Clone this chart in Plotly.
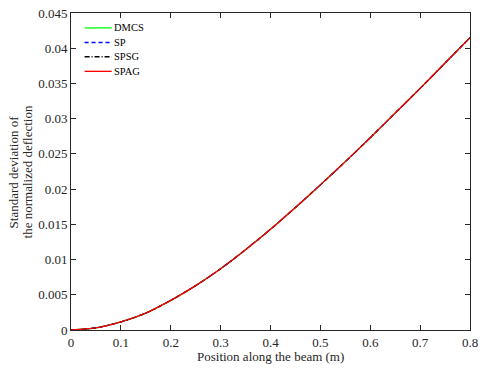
import plotly.graph_objects as go

positions = [0, 0.05, 0.1, 0.15, 0.2, 0.25, 0.3, 0.35, 0.4, 0.45, 0.5, 0.55, 0.6, 0.65, 0.7, 0.75, 0.8]
dmcs = [0, 0.0003, 0.00115, 0.0024, 0.0042, 0.0063, 0.0087, 0.0114, 0.0143, 0.0174, 0.0206, 0.0239, 0.0273, 0.0308, 0.0343, 0.0379, 0.0415]
sp = [0, 0.0003, 0.00115, 0.0024, 0.0042, 0.0063, 0.0087, 0.0114, 0.0143, 0.0174, 0.0206, 0.0239, 0.0273, 0.0308, 0.0343, 0.0379, 0.0415]
spsg = [0, 0.0003, 0.00115, 0.0024, 0.0042, 0.0063, 0.0087, 0.0114, 0.0143, 0.0174, 0.0206, 0.0239, 0.0273, 0.0308, 0.0343, 0.0379, 0.0415]
spag = [0, 0.0003, 0.00115, 0.0024, 0.0042, 0.0063, 0.0087, 0.0114, 0.0143, 0.0174, 0.0206, 0.0239, 0.0273, 0.0308, 0.0343, 0.0379, 0.0415]

series_names = ["DMCS", "SP", "SPSG", "SPAG"]
series_colors = ["#00ff00", "#0000ff", "#000000", "#ff0000"]
series_dashes = ["solid", "4px,3px", "5px,2px,1px,2px", "solid"]

x_ticks = [0, 0.1, 0.2, 0.3, 0.4, 0.5, 0.6, 0.7, 0.8]
x_labels = ["0", "0.1", "0.2", "0.3", "0.4", "0.5", "0.6", "0.7", "0.8"]
y_ticks = [0, 0.005, 0.01, 0.015, 0.02, 0.025, 0.03, 0.035, 0.04, 0.045]
y_labels = ["0", "0.005", "0.01", "0.015", "0.02", "0.025", "0.03", "0.035", "0.04", "0.045"]

x_title = "Position along the beam (m)"
y_title_lines = ["Standard deviation of", "the normalized deflection"]

FONT = "Liberation Serif, Times New Roman, Times, serif"
TXT = "#262626"

fig = go.Figure()
for name, vals, col, dash in zip(series_names, [dmcs, sp, spsg, spag], series_colors, series_dashes):
    fig.add_trace(go.Scatter(x=positions, y=vals, name=name, mode="lines", showlegend=False,
                             line=dict(color=col, width=1.3, dash=dash, shape="spline", smoothing=0.8)))

# legend drawn in paper coordinates (MATLAB-style compact legend)
leg_rows = [0.953, 0.907, 0.862, 0.816]
for name, col, dash, ry in zip(series_names, series_colors, series_dashes, leg_rows):
    fig.add_shape(type="line", xref="paper", yref="paper", x0=0.034, x1=0.102, y0=ry, y1=ry,
                  line=dict(color=col, width=1.3, dash=dash))
    fig.add_annotation(xref="paper", yref="paper", x=0.103, y=ry, text=name, showarrow=False,
                       xanchor="left", yanchor="middle",
                       font=dict(family=FONT, size=10.5, color="#000000"))

# axis titles
fig.add_annotation(xref="paper", yref="paper", x=0.5, y=-0.084, text=x_title, showarrow=False,
                   xanchor="center", yanchor="middle", font=dict(family=FONT, size=13, color=TXT))
for line_text, px in zip(y_title_lines, [-0.143, -0.108]):
    fig.add_annotation(xref="paper", yref="paper", x=px, y=0.5, text=line_text, showarrow=False,
                       textangle=-90, xanchor="center", yanchor="middle",
                       font=dict(family=FONT, size=13, color=TXT))

axis_common = dict(showline=True, linecolor=TXT, linewidth=1, mirror="ticks",
                   ticks="inside", ticklen=5, tickcolor=TXT, showgrid=False,
                   zeroline=False, ticklabeloverflow="allow",
                   tickfont=dict(family=FONT, size=13, color=TXT))

fig.update_xaxes(range=[0, 0.8], tickvals=x_ticks, ticktext=x_labels, **axis_common)
fig.update_yaxes(range=[0, 0.045], tickvals=y_ticks, ticktext=y_labels, **axis_common)

fig.update_layout(
    width=484, height=372,
    margin=dict(l=71, r=6, t=10, b=42),
    paper_bgcolor="white", plot_bgcolor="white",
    font=dict(family=FONT, size=13, color=TXT),
    showlegend=False,
)

fig.write_html("out.html")
